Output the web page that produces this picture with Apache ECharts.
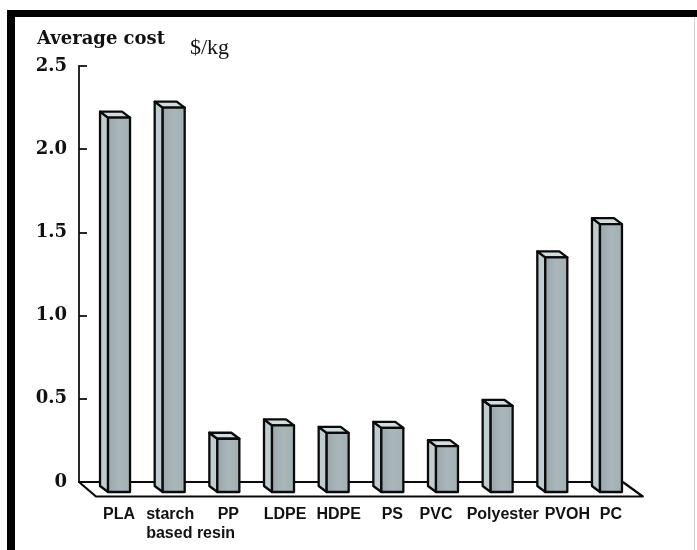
<!DOCTYPE html>
<html>
<head>
<meta charset="utf-8">
<script src="https://cdn.jsdelivr.net/npm/echarts@6/dist/echarts.min.js"></script>
<style>
  html, body { margin: 0; padding: 0; background: #fff; }
  #chart { width: 697px; height: 550px; }
</style>
</head>
<body>
<div id="chart"></div>
<script>
// Average cost of bio-based and conventional polymers, $/kg
const categories = ['PLA', 'starch\nbased resin', 'PP', 'LDPE', 'HDPE', 'PS', 'PVC', 'Polyester', 'PVOH', 'PC'];
const avgCost = [2.25, 2.31, 0.32, 0.40, 0.355, 0.385, 0.276, 0.517, 1.41, 1.61];
const yTickLabels = ['0', '0.5', '1.0', '1.5', '2.0', '2.5'];

// horizontal nudges for individual category labels (px)
const labelNudge = { 'LDPE': 2, 'HDPE': 1, 'PVC': -11, 'Polyester': 1, 'PVOH': 11 };

const chart = echarts.init(document.getElementById('chart'), null, { renderer: 'canvas' });

const CAT_FONT_SIZE = 16;
const CAT_FONT_FAMILY = 'Liberation Sans';

// measure the second line of the two-line label so the block can be left-aligned
function textWidth(str, f) {
  const c = document.createElement('canvas').getContext('2d');
  c.font = f;
  return c.measureText(str).width;
}

const axisData = categories.map(function (name) {
  if (name.indexOf('\n') >= 0) {
    const lines = name.split('\n');
    const font = 'bold ' + CAT_FONT_SIZE + 'px "' + CAT_FONT_FAMILY + '"';
    const w = Math.max.apply(null, lines.map(function (l) { return textWidth(l, font); }));
    const padLeft = Math.max(0, w - 55);
    return { value: name, textStyle: { padding: [0, 0, 0, padLeft] } };
  }
  const s = labelNudge[name] || 0;
  if (s > 0) return { value: name, textStyle: { padding: [0, 0, 0, 2 * s] } };
  if (s < 0) return { value: name, textStyle: { padding: [0, -2 * s, 0, 0] } };
  return name;
});

const GRID_LEFT = 91.7, GRID_RIGHT = 58.7, GRID_TOP = 66, GRID_BOTTOM = 68;
const AXIS_OFFSET = 12.7;
const EDGE = '#0a0a0a';

// 3-D column: front face, left side face and top face
function renderColumn(params, api) {
  const i = api.value(0), v = api.value(1);
  const top = api.coord([i, v]);
  const bot = api.coord([i, 0]);
  const half = 11, dx = 8, dy = 6, sh = 10;
  const x0 = top[0] - half, x1 = top[0] + half;
  const yT = top[1] + sh, yB = bot[1] + sh;
  const stroke = { stroke: EDGE, lineWidth: 2.3, lineJoin: 'round' };
  return {
    type: 'group',
    children: [
      { type: 'polygon', shape: { points: [[x0 - dx, yT - dy], [x0, yT], [x0, yB], [x0 - dx, yB - dy]] },
        style: Object.assign({ fill: '#c0ccd0' }, stroke) },
      { type: 'polygon', shape: { points: [[x0 - dx, yT - dy], [x1 - dx, yT - dy], [x1, yT], [x0, yT]] },
        style: Object.assign({ fill: '#d3dcdf' }, stroke) },
      { type: 'rect', shape: { x: x0, y: yT, width: x1 - x0, height: yB - yT },
        style: Object.assign({
          fill: new echarts.graphic.LinearGradient(0, 0, 1, 0, [
            { offset: 0, color: '#98a7ac' }, { offset: 0.5, color: '#a9b6ba' }, { offset: 1, color: '#a1afb3' }
          ])
        }, stroke) }
    ]
  };
}

// floor plate under the columns
function renderFloor(params, api) {
  const cs = params.coordSys;
  const base = api.coord([0, 0])[1];
  const axX = cs.x - AXIS_OFFSET;
  const backR = cs.x + cs.width - 15.5;
  const frontL = axX + 17, frontR = cs.x + cs.width + 4.5, frontY = base + 14.5;
  return {
    type: 'polyline',
    shape: { points: [[backR, base], [axX, base], [frontL, frontY], [frontR, frontY], [backR, base]] },
    style: { fill: null, stroke: EDGE, lineWidth: 2.2, lineJoin: 'round' }
  };
}

const option = {
  backgroundColor: '#ffffff',
  animation: false,
  grid: { left: GRID_LEFT, right: GRID_RIGHT, top: GRID_TOP, bottom: GRID_BOTTOM, containLabel: false },
  xAxis: {
    type: 'category',
    data: axisData,
    axisLine: { show: false },
    axisTick: { show: false },
    axisLabel: {
      margin: 23,
      interval: 0,
      fontFamily: CAT_FONT_FAMILY, fontWeight: 'bold', fontSize: CAT_FONT_SIZE, color: '#111', lineHeight: 19,
      formatter: function (v) {
        if (v.indexOf('\n') < 0) return v;
        return v.split('\n').map(function (l) { return '{l|' + l + '}'; }).join('\n');
      },
      rich: { l: { align: 'left', fontFamily: CAT_FONT_FAMILY, fontWeight: 'bold', fontSize: CAT_FONT_SIZE, color: '#111', lineHeight: 19 } }
    },
    splitLine: { show: false }
  },
  yAxis: {
    type: 'value',
    min: 0, max: 2.5, interval: 0.5,
    offset: AXIS_OFFSET,
    axisLine: { show: true, lineStyle: { color: '#111', width: 1.8 } },
    axisTick: { show: true, inside: true, length: 8, lineStyle: { color: '#111', width: 1.8 } },
    axisLabel: {
      margin: 12,
      fontFamily: 'DejaVu Serif', fontWeight: 'bold', fontSize: 18, color: '#111',
      formatter: function (v) { return yTickLabels[Math.round(v / 0.5)]; }
    },
    splitLine: { show: false }
  },
  graphic: [
    { type: 'rect', shape: { x: 7, y: 10, width: 690, height: 7 }, style: { fill: '#000' } },
    { type: 'rect', shape: { x: 7, y: 10, width: 8, height: 540 }, style: { fill: '#000' } },
    { type: 'rect', shape: { x: 694, y: 17, width: 1, height: 533 }, style: { fill: '#d0d0d0' } },
    { type: 'text', x: 37, y: 39, style: { text: 'Average cost', fontFamily: 'DejaVu Serif', fontWeight: 'bold', fontSize: 18, fill: '#111', verticalAlign: 'middle' } },
    { type: 'text', x: 190, y: 48, style: { text: '$/kg', fontFamily: 'Liberation Serif', fontSize: 22, fill: '#111', verticalAlign: 'middle' } }
  ],
  series: [
    { type: 'custom', name: 'floor', z: 1, renderItem: renderFloor, data: [[0, 0]], silent: true },
    { type: 'custom', name: 'Average cost', z: 2, renderItem: renderColumn,
      data: avgCost.map(function (v, i) { return [i, v]; }) }
  ]
};

chart.setOption(option);
</script>
</body>
</html>
